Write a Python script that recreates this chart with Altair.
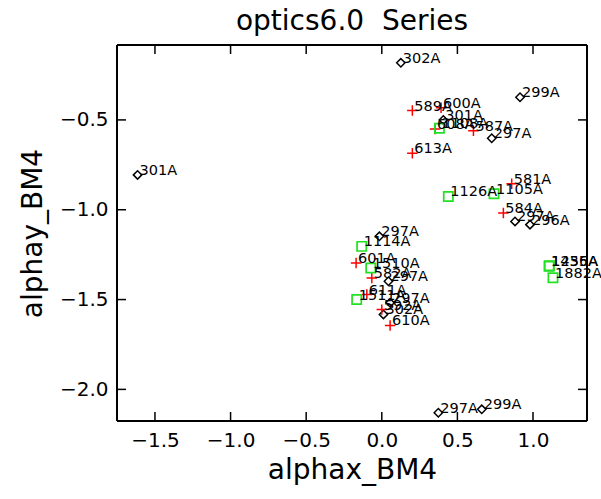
import altair as alt
import pandas as pd

# ---- data ----
diamond_x = [0.126, 0.914, 0.407, 0.727, -1.615, 0.881, 0.980, 0.374, 0.661,
             -0.016, 0.044, 0.055, 0.011]
diamond_y = [-0.182, -0.374, -0.500, -0.602, -0.806, -1.065, -1.083, -2.130, -2.111,
             -1.148, -1.398, -1.518, -1.583]
diamond_lbl = ["302A", "299A", "301A", "297A", "301A", "297A", "296A", "297A", "299A",
               "297A", "297A", "297A", "302A"]

plus_x = [0.202, 0.392, 0.352, 0.606, 0.202, 0.859, 0.804, -0.170, -0.066, -0.099, 0.000, 0.055]
plus_y = [-0.448, -0.432, -0.550, -0.560, -0.685, -0.856, -1.018, -1.296, -1.380, -1.472, -1.556, -1.644]
plus_lbl = ["589A", "600A", "608A", "587A", "613A", "581A", "584A", "601A", "582A", "611A", "592A", "610A"]

square_x = [0.381, 0.440, 0.742, -0.133, -0.073, -0.166, 1.106, 1.108, 1.132]
square_y = [-0.546, -0.926, -0.911, -1.204, -1.324, -1.500, -1.315, -1.312, -1.379]
square_lbl = ["1108A", "1126A", "1105A", "1114A", "1510A", "1511A", "1435A", "1256A", "1882A"]

x_ticks = [-1.5, -1.0, -0.5, 0.0, 0.5, 1.0]
y_ticks = [-2.0, -1.5, -1.0, -0.5]
x_domain = [-1.751, 1.357]
y_domain = [-2.176, -0.083]

W, H = 470, 376
FONT = "DejaVu Sans"

def frame(xs, ys, lbls):
    return pd.DataFrame({"x": xs, "y": ys, "lbl": lbls})

d_df = frame(diamond_x, diamond_y, diamond_lbl)
p_df = frame(plus_x, plus_y, plus_lbl)
s_df = frame(square_x, square_y, square_lbl)
xt_df = pd.DataFrame({"v": x_ticks})
yt_df = pd.DataFrame({"v": y_ticks})

xscale = alt.Scale(domain=x_domain, nice=False, zero=False)
yscale = alt.Scale(domain=y_domain, nice=False, zero=False)

xenc = alt.X("x:Q", scale=xscale, title="alphax_BM4",
             axis=alt.Axis(values=x_ticks, format=".1f", ticks=False, domain=False, grid=False,
                           labelFontSize=20, labelFont=FONT, labelColor="black", labelPadding=9,
                           titleFontSize=28, titleFont=FONT, titleFontWeight="normal",
                           titleColor="black", titlePadding=6, labelFlush=False))
yenc = alt.Y("y:Q", scale=yscale, title="alphay_BM4",
             axis=alt.Axis(values=y_ticks, format=".1f", ticks=False, domain=False, grid=False,
                           labelFontSize=20, labelFont=FONT, labelColor="black", labelPadding=9,
                           titleFontSize=28, titleFont=FONT, titleFontWeight="normal",
                           titleColor="black", titlePadding=12, labelFlush=False))

def pts(df, **mk):
    return alt.Chart(df).mark_point(**mk).encode(x=xenc, y=yenc)

def txt(df):
    return alt.Chart(df).mark_text(align="left", baseline="alphabetic", dx=2, dy=0,
                                   font=FONT, fontSize=14.5, fontWeight="normal",
                                   color="black").encode(
        x=alt.X("x:Q", scale=xscale), y=alt.Y("y:Q", scale=yscale), text="lbl:N")

diam = pts(d_df, shape="diamond", size=70, filled=False, color="black", strokeWidth=1.5, opacity=1)
plus = pts(p_df, shape="M-1,0L1,0M0,-1L0,1", size=110, filled=False, color="#ff0000",
           strokeWidth=1.5, opacity=1)
sq = pts(s_df, shape="square", size=85, filled=False, color="#22e022", strokeWidth=1.7, opacity=1)

tk = dict(color="black", strokeWidth=1.5)
xs_ = alt.X("v:Q", scale=xscale)
ys_ = alt.Y("v:Q", scale=yscale)
bottom_t = alt.Chart(xt_df).mark_rule(**tk).encode(x=xs_, y=alt.value(H - 9), y2=alt.value(H))
top_t = alt.Chart(xt_df).mark_rule(**tk).encode(x=xs_, y=alt.value(0), y2=alt.value(9))
left_t = alt.Chart(yt_df).mark_rule(**tk).encode(y=ys_, x=alt.value(0), x2=alt.value(9))
right_t = alt.Chart(yt_df).mark_rule(**tk).encode(y=ys_, x=alt.value(W - 9), x2=alt.value(W))

fr = dict(color="black", strokeWidth=1.8)
f_top = alt.Chart(xt_df).mark_rule(**fr).encode(x=alt.value(0), x2=alt.value(W), y=alt.value(0))
f_bot = alt.Chart(xt_df).mark_rule(**fr).encode(x=alt.value(0), x2=alt.value(W), y=alt.value(H))
f_left = alt.Chart(xt_df).mark_rule(**fr).encode(y=alt.value(0), y2=alt.value(H), x=alt.value(0))
f_right = alt.Chart(xt_df).mark_rule(**fr).encode(y=alt.value(0), y2=alt.value(H), x=alt.value(W))

chart = alt.layer(
    diam, plus, sq, txt(d_df), txt(p_df), txt(s_df),
    bottom_t, top_t, left_t, right_t, f_top, f_bot, f_left, f_right
).properties(
    width=W, height=H,
    title=alt.TitleParams("optics6.0\u00a0\u00a0Series", fontSize=28, font=FONT,
                          fontWeight="normal", color="black", offset=8, anchor="middle"),
    autosize=alt.AutoSizeParams(type="none"),
    padding={"left": 117, "top": 45, "right": 14, "bottom": 78},
).configure_view(
    stroke=None
).configure(background="white")

chart.save("out.html", embed_options={"renderer": "svg", "actions": False})
